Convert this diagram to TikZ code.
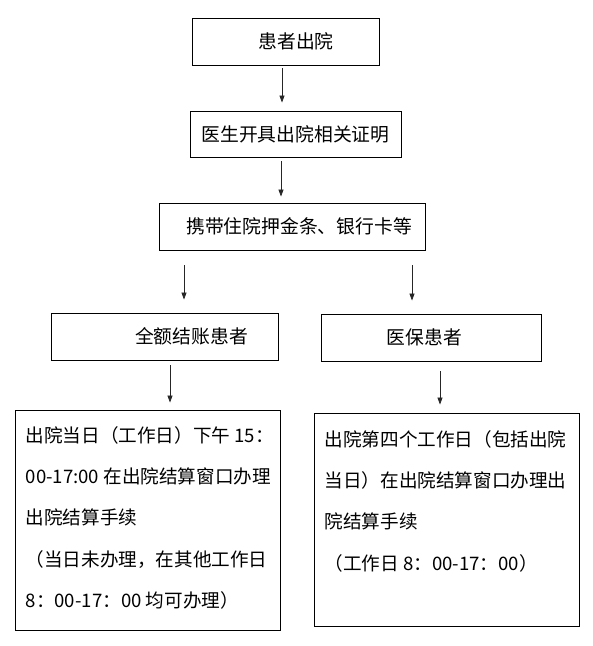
\documentclass[tikz,border=0pt]{standalone}
\usepackage{fontspec}
\setmainfont{Noto Sans CJK SC}
\usetikzlibrary{arrows.meta}
\begin{document}
\begin{tikzpicture}[x=1pt,y=-1pt,
  box/.style={draw, line width=0.9pt, inner sep=0pt, font=\fontsize{18.8}{23}\selectfont},
  txt/.style={inner sep=0pt, align=left, anchor=north west, font=\fontsize{18.6}{41.3}\selectfont},
  arr/.style={draw=black!85, line width=0.8pt, -{Triangle[length=7pt,width=5pt]}}]
\useasboundingbox (0,0) rectangle (593,646);
\node[box, minimum width=187pt, minimum height=47pt] (b1) at (285.5,41.5) {\hspace*{21pt}患者出院};
\node[box, minimum width=211pt, minimum height=46pt] (b2) at (295.5,134) {医生开具出院相关证明};
\node[box, minimum width=266pt, minimum height=47pt] (b3) at (292,226.5) {\hspace*{14pt}携带住院押金条、银行卡等};
\node[box, minimum width=227pt, minimum height=47pt] (b4) at (164.5,336.5) {\hspace*{54pt}全额结账患者};
\node[box, minimum width=220pt, minimum height=47pt] (b5) at (431,337.5) {医保患者\hspace*{13pt}};
\node[box, minimum width=265pt, minimum height=220pt] (b6) at (147.5,520) {};
\node[box, minimum width=265pt, minimum height=213pt] (b7) at (446.5,519.5) {};
\node[txt] (t6) at ([xshift=11pt,yshift=-16.5pt]b6.north west)
  {出院当日（工作日）下午 15：\\00-17:00 在出院结算窗口办理\\出院结算手续\\（当日未办理，在其他工作日\\8：00-17：00 均可办理）};
\node[txt] (t7) at ([xshift=11pt,yshift=-17.5pt]b7.north west)
  {出院第四个工作日（包括出院\\当日）在出院结算窗口办理出\\院结算手续\\（工作日 8：00-17：00）};
\draw[arr] ([xshift=-3.5pt,yshift=-3pt]b1.south) -- ([xshift=-13.5pt,yshift=8pt]b2.north);
\draw[arr] ([xshift=-14.5pt,yshift=-4pt]b2.south) -- ([xshift=-11pt,yshift=6pt]b3.north);
\draw[arr] ([xshift=-108pt,yshift=-15pt]b3.south) -- ([xshift=19.5pt,yshift=13pt]b4.north);
\draw[arr] ([xshift=120pt,yshift=-15pt]b3.south) -- ([xshift=-19pt,yshift=13pt]b5.north);
\draw[arr] ([xshift=5.5pt,yshift=-5pt]b4.south) -- ([xshift=22.5pt,yshift=7pt]b6.north);
\draw[arr] ([xshift=9pt,yshift=-10pt]b5.south) -- ([xshift=-6.5pt,yshift=8pt]b7.north);
\end{tikzpicture}
\end{document}
